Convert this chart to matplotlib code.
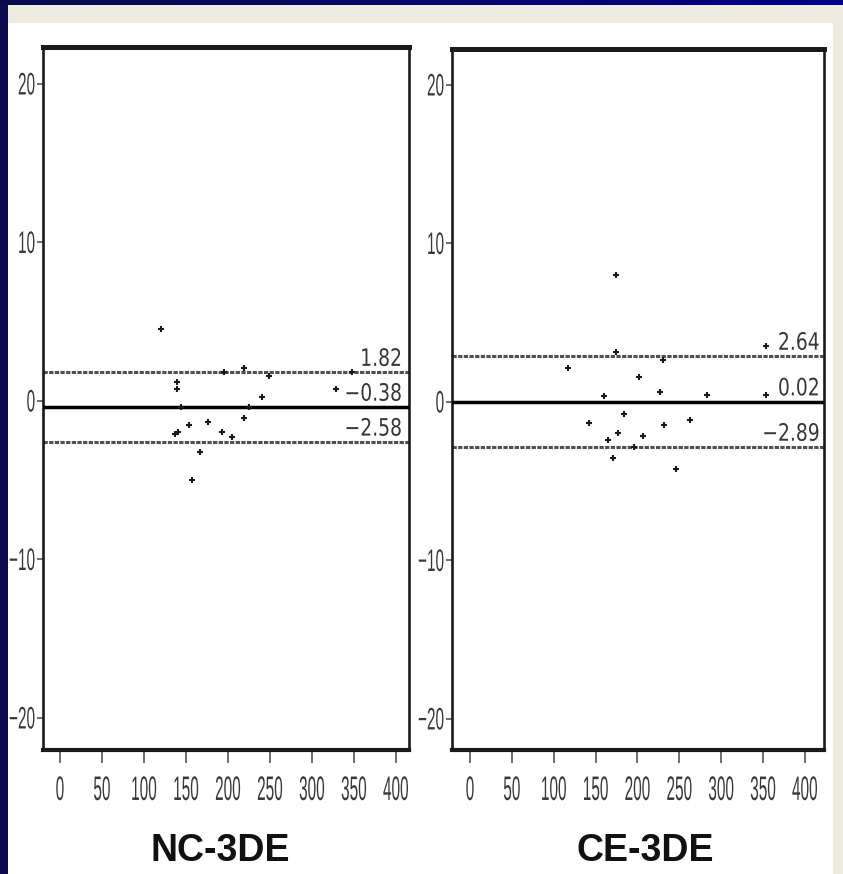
import matplotlib
matplotlib.use('Agg')
import matplotlib.pyplot as plt
import numpy as np
from matplotlib.patches import Rectangle
from matplotlib.colors import LinearSegmentedColormap
from matplotlib.patheffects import AbstractPathEffect
from matplotlib.transforms import Affine2D

# ---------------- data ----------------
nc_x = [120, 139, 139, 144, 195, 219, 249, 348, 329, 241, 225, 219, 205, 193,
        176, 154, 140, 137, 167, 157]
nc_y = [4.54, 1.20, 0.75, -0.38, 1.83, 2.08, 1.58, 1.83, 0.76, 0.25, -0.38,
        -1.07, -2.27, -1.96, -1.32, -1.51, -1.96, -2.10, -3.20, -4.98]

ce_x = [174, 174, 353, 231, 117, 202, 227, 160, 283, 353, 184, 142, 232, 263,
        177, 207, 165, 196, 171, 246]
ce_y = [8.00, 3.15, 3.50, 2.65, 2.15, 1.58, 0.63, 0.38, 0.44, 0.44, -0.76,
        -1.33, -1.45, -1.14, -1.96, -2.14, -2.40, -2.84, -3.53, -4.23]

nc_levels = [1.82, -0.38, -2.58]          # upper limit, mean, lower limit
nc_level_labels = ['1.82', '\u22120.38', '\u22122.58']
ce_levels = [2.90, 0.02, -2.84]
ce_level_labels = ['2.64', '0.02', '\u22122.89']

panel_titles = ['NC-3DE', 'CE-3DE']
x_ticks = [0, 50, 100, 150, 200, 250, 300, 350, 400]
y_ticks = [-20, -10, 0, 10, 20]


# ---------------- helpers ----------------
class Squeeze(AbstractPathEffect):
    """Reshape glyph outlines (the text stays a Text artist)."""
    def __init__(self, sx=0.5, sy=1.0, anchor='center', yanchor='center'):
        super().__init__()
        self.sx, self.sy = sx, sy
        self.anchor, self.yanchor = anchor, yanchor

    def draw_path(self, renderer, gc, tpath, affine, rgbFace=None):
        ext = tpath.get_extents()
        if self.anchor == 'center':
            cx = (ext.x0 + ext.x1) / 2
        elif self.anchor == 'right':
            cx = ext.x1
        else:
            cx = ext.x0
        cy = (ext.y0 + ext.y1) / 2 if self.yanchor == 'center' else 0.0
        t = (Affine2D().translate(-cx, -cy).scale(self.sx, self.sy)
             .translate(cx, cy) + affine)
        renderer.draw_path(gc, tpath, t, rgbFace)


W, H = 843, 874
fig = plt.figure(figsize=(W / 100, H / 100), dpi=100, facecolor='white')

# background decoration (slide frame)
fig.patches.append(Rectangle((0, 0), 8 / W, 1, transform=fig.transFigure,
                             facecolor='#0a0a50', edgecolor='none', zorder=-5))
fig.patches.append(Rectangle((8 / W, (H - 23) / H), 1, 18 / H,
                             transform=fig.transFigure,
                             facecolor='#edece1', edgecolor='none', zorder=-5))
fig.patches.append(Rectangle((833 / W, 0), 10 / W, (H - 5) / H,
                             transform=fig.transFigure,
                             facecolor='#edece1', edgecolor='none', zorder=-5))
gax = fig.add_axes([0, (H - 5) / H, 1, 5 / H])
cmap = LinearSegmentedColormap.from_list('top', ['#0a0a4a', '#00008b'])
gax.imshow(np.linspace(0, 1, 256)[None, :], aspect='auto', cmap=cmap,
           extent=[0, 1, 0, 1])
gax.set_axis_off()

# axes placement (pixels: left, top, right, bottom)
boxes = [(43, 47, 409, 750), (452, 49, 824, 750)]
xlims = [(-20.2, 415.5), (-21.5, 422.7)]
ylims = [(-22.02, 22.33), (-21.96, 22.27)]
label_xfrac = [0.981, 0.989]
title_cx = [220, 645]

xs = [nc_x, ce_x]
ys = [nc_y, ce_y]
levels = [nc_levels, ce_levels]
level_labels = [nc_level_labels, ce_level_labels]

tick_font = 'Liberation Sans'
for i in range(2):
    l, t, r, b = boxes[i]
    ax = fig.add_axes([l / W, (H - b) / H, (r - l) / W, (b - t) / H])
    ax.set_facecolor('white')
    ax.set_xlim(*xlims[i])
    ax.set_ylim(*ylims[i])

    # limit lines and mean line
    up, mean, lo = levels[i]
    for lv in (up, lo):
        ax.axhline(lv, color='#505050', lw=2.2, dashes=(1.4, 0.45), zorder=2)
    ax.axhline(mean, color='black', lw=2.5, zorder=3)

    # level labels
    for lv, txt in zip(levels[i], level_labels[i]):
        a = ax.annotate(txt, xy=(label_xfrac[i], lv),
                        xycoords=('axes fraction', 'data'),
                        xytext=(0, 4.5), textcoords='offset points',
                        ha='right', va='baseline', fontsize=15,
                        family='DejaVu Sans', color='#383838', zorder=5)
        a.set_path_effects([Squeeze(0.9, 1.15, 'right', 'baseline')])

    # points
    ax.plot(xs[i], ys[i], linestyle='none', marker='+', ms=5, mew=1.5,
            color='#1a1a1a', zorder=4)

    # spines
    for side, lw in (('top', 3.6), ('bottom', 3.0), ('left', 1.9), ('right', 1.9)):
        ax.spines[side].set_linewidth(lw)
        ax.spines[side].set_color('#1a1a1a')

    ax.set_xticks(x_ticks)
    ax.set_yticks(y_ticks)
    ax.set_xticklabels([str(v) for v in x_ticks])
    ax.set_yticklabels([('\u2212' + str(-v)) if v < 0 else str(v) for v in y_ticks])
    ax.tick_params(axis='x', direction='out', length=9, width=1.2,
                   color='#555555', pad=14, labelsize=14, labelcolor='#383838')
    ax.tick_params(axis='y', direction='out', length=4, width=1.2,
                   color='#555555', pad=1.5, labelsize=14, labelcolor='#383838')
    for tk in ax.xaxis.get_major_ticks():
        tk.label1.set_family(tick_font)
        tk.label1.set_path_effects([Squeeze(0.79, 1.75, 'center', 'center')])
    for tk in ax.yaxis.get_major_ticks():
        tk.label1.set_family(tick_font)
        tk.label1.set_path_effects([Squeeze(0.79, 1.6, 'right', 'center')])

    fig.text(title_cx[i] / W, (H - 861) / H, panel_titles[i], ha='center',
             va='baseline', fontsize=27, fontweight='bold',
             family='Liberation Sans', color='#111111')

fig.savefig('out.png', dpi=100, facecolor=fig.get_facecolor())
